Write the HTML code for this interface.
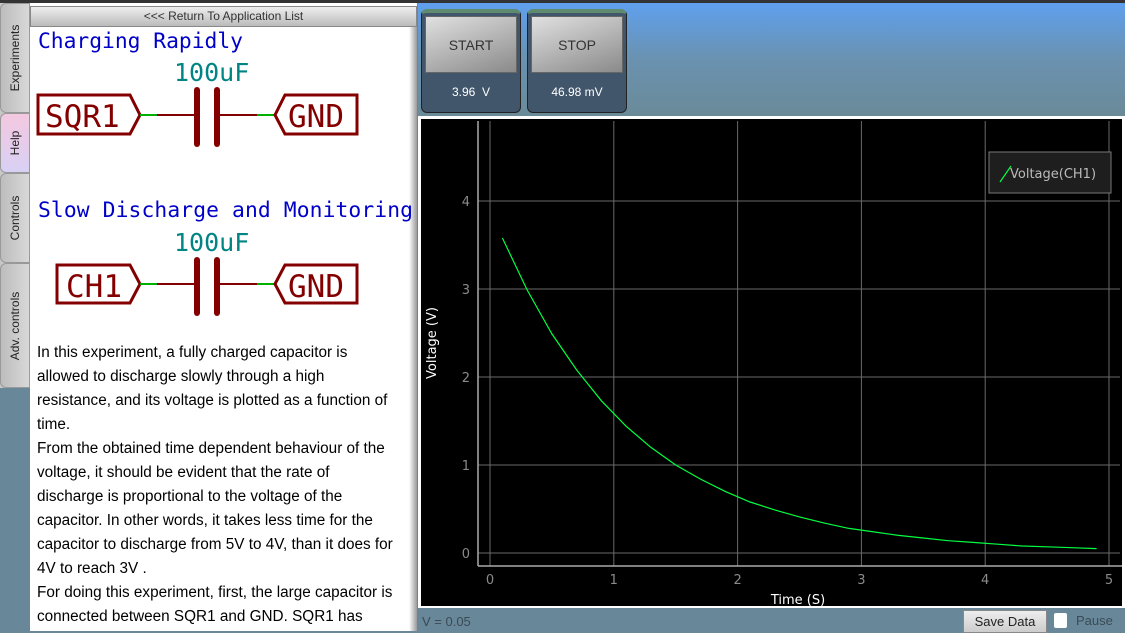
<!DOCTYPE html>
<html><head><meta charset="utf-8">
<style>
*{margin:0;padding:0;box-sizing:border-box}
body{width:1125px;height:631px;overflow:hidden;background:#68889a;font-family:"Liberation Sans",sans-serif;position:relative}
.abs{position:absolute}
.tab{position:absolute;left:0;width:30px;background:linear-gradient(90deg,#bdbdbd,#d8d8d8);border-radius:6px 0 0 6px;border:1px solid #999}
.tab span{position:absolute;left:50%;top:50%;transform:translate(-50%,-50%) rotate(-90deg);white-space:nowrap;font-size:12px;color:#222}
.btnbox{position:absolute;top:9px;width:100px;height:104px;background:#41566b;border:1px solid #222;border-top:4px solid #5e8a70;border-radius:6px}
.btn{position:absolute;left:3px;top:3px;width:92px;height:57px;background:linear-gradient(160deg,#e0e0e0,#8a8a8a);border:1px solid #666;font-size:14px;color:#333;display:flex;align-items:center;justify-content:center}
.val{position:absolute;left:0;width:100%;top:72px;text-align:center;color:#fff;font-size:12px}
p.t{font-size:15.3px;line-height:24px;color:#000}
</style></head><body>
<div class="abs" style="left:0;top:0;width:1125px;height:3px;background:#333"></div>
<div class="abs" style="left:0;top:3px;width:30px;height:385px;background:#c8c8c8"></div>
<div class="tab" style="top:3px;height:110px"><span>Experiments</span></div>
<div class="tab" style="top:113px;height:60px;background:linear-gradient(180deg,#f4c8e0,#d8d0f4)"><span>Help</span></div>
<div class="tab" style="top:173px;height:90px"><span>Controls</span></div>
<div class="tab" style="top:263px;height:125px"><span>Adv. controls</span></div>

<div class="abs" style="left:30px;top:3px;width:387px;height:628px;background:#fff;overflow:hidden">
  <div class="abs" style="left:0;top:3px;width:387px;height:21px;background:linear-gradient(#eee,#bbb);border:1px solid #888;font-size:12px;color:#333;text-align:center;line-height:19px">&lt;&lt;&lt; Return To Application List</div>
  <div class="abs" style="right:0;top:24px;width:8px;height:610px;background:linear-gradient(90deg,#fff,#999)"></div>
  <svg class="abs" style="left:0;top:0" width="387" height="330">
    <g font-family="DejaVu Sans Mono, monospace">
      <text x="8" y="45" font-size="21.3" fill="#0000c8" textLength="205">Charging Rapidly</text>
      <text x="144" y="78" font-size="25" fill="#008484">100uF</text>
      <polygon points="8,92 100,92 110,112 100,131 8,131" fill="none" stroke="#840000" stroke-width="3"/>
      <text x="15" y="124" font-size="31" fill="#840000">SQR1</text>
      <line x1="110" y1="112" x2="127" y2="112" stroke="#00b000" stroke-width="2"/>
      <line x1="127" y1="112" x2="166" y2="112" stroke="#840000" stroke-width="2"/>
      <line x1="167" y1="87" x2="167" y2="141" stroke="#840000" stroke-width="6" stroke-linecap="round"/>
      <line x1="187" y1="87" x2="187" y2="141" stroke="#840000" stroke-width="6" stroke-linecap="round"/>
      <line x1="188" y1="112" x2="227" y2="112" stroke="#840000" stroke-width="2"/>
      <line x1="227" y1="112" x2="245" y2="112" stroke="#00b000" stroke-width="2"/>
      <polygon points="245,112 255,92 327,92 327,131 255,131" fill="none" stroke="#840000" stroke-width="3"/>
      <text x="258" y="124" font-size="31" fill="#840000">GND</text>

      <text x="8" y="214" font-size="21.3" fill="#0000c8" textLength="375">Slow Discharge and Monitoring</text>
      <text x="144" y="248" font-size="25" fill="#008484">100uF</text>
      <polygon points="27,262 100,262 110,281 100,300 27,300" fill="none" stroke="#840000" stroke-width="3"/>
      <text x="36" y="294" font-size="31" fill="#840000">CH1</text>
      <line x1="110" y1="281" x2="127" y2="281" stroke="#00b000" stroke-width="2"/>
      <line x1="127" y1="281" x2="166" y2="281" stroke="#840000" stroke-width="2"/>
      <line x1="167" y1="257" x2="167" y2="310" stroke="#840000" stroke-width="6" stroke-linecap="round"/>
      <line x1="187" y1="257" x2="187" y2="310" stroke="#840000" stroke-width="6" stroke-linecap="round"/>
      <line x1="188" y1="281" x2="227" y2="281" stroke="#840000" stroke-width="2"/>
      <line x1="227" y1="281" x2="245" y2="281" stroke="#00b000" stroke-width="2"/>
      <polygon points="245,281 255,262 327,262 327,300 255,300" fill="none" stroke="#840000" stroke-width="3"/>
      <text x="258" y="294" font-size="31" fill="#840000">GND</text>
    </g>
  </svg>
  <p class="t abs" style="left:7px;top:338px;width:380px;white-space:nowrap">In this experiment, a fully charged capacitor is<br>allowed to discharge slowly through a high<br>resistance, and its voltage is plotted as a function of<br>time.<br>From the obtained time dependent behaviour of the<br>voltage, it should be evident that the rate of<br>discharge is proportional to the voltage of the<br>capacitor. In other words, it takes less time for the<br>capacitor to discharge from 5V to 4V, than it does for<br>4V to reach 3V .<br>For doing this experiment, first, the large capacitor is<br>connected between SQR1 and GND. SQR1 has</p>
</div>

<div class="abs" style="left:418px;top:3px;width:707px;height:113px;background:linear-gradient(180deg,#5fa0ee 0%,#6a92b0 50%,#6a8a98 100%)"></div>
<div class="btnbox" style="left:421px"><div class="btn">START</div><div class="val">3.96&nbsp; V</div></div>
<div class="btnbox" style="left:527px"><div class="btn">STOP</div><div class="val">46.98 mV</div></div>

<div class="abs" style="left:418px;top:116px;width:707px;height:492px;background:#fff"></div>
<svg class="abs" id="plot" style="left:421px;top:119px;background:#000" width="701" height="487"></svg>

<div class="abs" style="left:422px;top:614px;font-size:13px;color:#3a4a55">V = 0.05</div>
<div class="abs" style="left:963px;top:610px;width:84px;height:23px;background:linear-gradient(#eee,#ccc);border:1px solid #888;font-size:13px;color:#222;text-align:center;line-height:22px">Save Data</div>
<div class="abs" style="left:1054px;top:613px;width:13px;height:15px;background:#fff;border-radius:2px"></div>
<div class="abs" style="left:1076px;top:613px;font-size:13px;color:#3a4a55">Pause</div>

<script>
const times=[0.1,0.3,0.5,0.7,0.9,1.1,1.3,1.5,1.7,1.9,2.1,2.3,2.5,2.7,2.9,3.1,3.3,3.5,3.7,3.9,4.1,4.3,4.5,4.7,4.9];
const volts=[3.58,2.99,2.49,2.08,1.73,1.44,1.20,1.00,0.84,0.70,0.58,0.49,0.41,0.34,0.28,0.24,0.20,0.17,0.14,0.12,0.10,0.08,0.07,0.06,0.05];
const xTicks=[0,1,2,3,4,5];
const yTicks=[0,1,2,3,4];
const ox=421, oy=119;
function X(t){return 490-ox+t*123.8;}
function Y(v){return 553-oy-v*88;}
const svg=document.getElementById('plot');
const NS='http://www.w3.org/2000/svg';
function mk(tag,attrs){const e=document.createElementNS(NS,tag);for(const k in attrs)e.setAttribute(k,attrs[k]);svg.appendChild(e);return e;}
const axX=478-ox, axY=566-oy;
xTicks.forEach(t=>{
  const g=mk('line',{x1:X(t),x2:X(t),y1:2,y2:axY,stroke:'#6a6a6a','stroke-width':1});
  
  
  const l=mk('text',{x:X(t),y:axY+18,fill:'#8a8a8a','font-size':13,'text-anchor':'middle','font-family':'DejaVu Sans, sans-serif'});
  l.textContent=t;
  
  
});
yTicks.forEach(v=>{
  const g=mk('line',{x1:axX,x2:699,y1:Y(v),y2:Y(v),stroke:'#6a6a6a','stroke-width':1});
  
  
  const l=mk('text',{x:axX-8,y:Y(v)+5,fill:'#8a8a8a','font-size':13,'text-anchor':'end','font-family':'DejaVu Sans, sans-serif'});
  l.textContent=v;
  
  
});
const ay=mk('line',{x1:axX,x2:axX,y1:2,y2:axY,stroke:'#aaa','stroke-width':1.5});


const ax=mk('line',{x1:axX,x2:701,y1:axY,y2:axY,stroke:'#aaa','stroke-width':1.5});


const pts=times.map((t,i)=>X(t).toFixed(1)+','+Y(volts[i]).toFixed(1)).join(' ');
const pl=mk('polyline',{points:pts,fill:'none',stroke:'#00ff40','stroke-width':1.2});


const xt=mk('text',{x:798-ox,y:604-oy,fill:'#fff','font-size':13,'text-anchor':'middle','font-family':'DejaVu Sans, sans-serif'});
xt.textContent='Time (S)';


const yt=mk('text',{x:0,y:0,fill:'#fff','font-size':13,'text-anchor':'middle','font-family':'DejaVu Sans, sans-serif',transform:`translate(${436-ox},${343-oy}) rotate(-90)`});
yt.textContent='Voltage (V)';


const lb=mk('rect',{x:989-ox,y:152-oy,width:122,height:41,fill:'#1e1e1e',stroke:'#777'});


const ll=mk('line',{x1:1000-ox,y1:182-oy,x2:1011-ox,y2:166-oy,stroke:'#00ff40','stroke-width':1.2});


const lt=mk('text',{x:1010-ox,y:178-oy,fill:'#bbb','font-size':13,'font-family':'DejaVu Sans, sans-serif'});
lt.textContent='Voltage(CH1)';


</script>
</body></html>
